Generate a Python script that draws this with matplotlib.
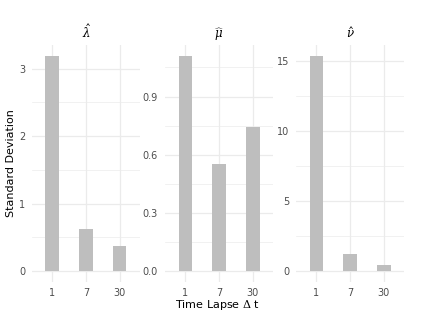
import matplotlib
matplotlib.use("Agg")

import matplotlib.pyplot as plt

plt.rcParams["mathtext.fontset"] = "dejavuserif"

# data
lapses = ["1", "7", "30"]
sd_lambda = [3.19, 0.62, 0.37]
sd_mu = [1.11, 0.55, 0.745]
sd_nu = [15.35, 1.22, 0.43]

titles = [r"$\boldsymbol{\hat{\lambda}}$",
          r"$\boldsymbol{\widehat{\mu}}$",
          r"$\boldsymbol{\hat{\nu}}$"]
major_ticks = [[0, 1, 2, 3], [0.0, 0.3, 0.6, 0.9], [0, 5, 10, 15]]
minor_ticks = [[0.5, 1.5, 2.5], [0.15, 0.45, 0.75, 1.05], [2.5, 7.5, 12.5]]
tick_fmt = ["{:g}", "{:.1f}", "{:g}"]
series = [sd_lambda, sd_mu, sd_nu]

W, H = 425, 320
fig = plt.figure(figsize=(W / 100, H / 100), dpi=100)

# panel left/right edges in pixels
panels = [(32, 140), (165, 273), (296, 404)]
top_px, bot_px = 45, 282

grid_col = "#EBEBEB"
txt_col = "#4D4D4D"

for i, (x0, x1) in enumerate(panels):
    ax = fig.add_axes([x0 / W, 1 - bot_px / H, (x1 - x0) / W, (bot_px - top_px) / H])
    vals = series[i]
    x = range(len(lapses))
    ax.bar(x, vals, width=0.4, color="#BEBEBE", zorder=2)
    vmax = max(vals)
    ax.set_ylim(-0.05 * vmax, 1.05 * vmax)
    ax.set_xlim(-0.6, len(lapses) - 0.4)
    ax.set_xticks(list(x))
    ax.set_xticklabels(lapses)
    ax.set_yticks(major_ticks[i])
    ax.set_yticklabels([tick_fmt[i].format(t) for t in major_ticks[i]])
    ax.set_yticks(minor_ticks[i], minor=True)
    ax.grid(True, which="major", color=grid_col, lw=0.9, zorder=0)
    ax.grid(True, which="minor", axis="y", color=grid_col, lw=0.5, zorder=0)
    ax.tick_params(which="both", length=0, labelsize=7, labelcolor=txt_col)
    ax.tick_params(axis="x", pad=4)
    ax.tick_params(axis="y", pad=5)
    for s in ax.spines.values():
        s.set_visible(False)
    ax.set_title(titles[i], fontsize=8.5, pad=5)
    ax.set_axisbelow(True)

fig.text(11 / W, 1 - 163 / H, "Standard Deviation", rotation=90,
         ha="center", va="center", fontsize=8)
fig.text(218 / W, 1 - 305 / H, "Time Lapse $\\Delta$ t", ha="center", va="center", fontsize=8)

fig.savefig("out.png", dpi=100)
plt.close(fig)
